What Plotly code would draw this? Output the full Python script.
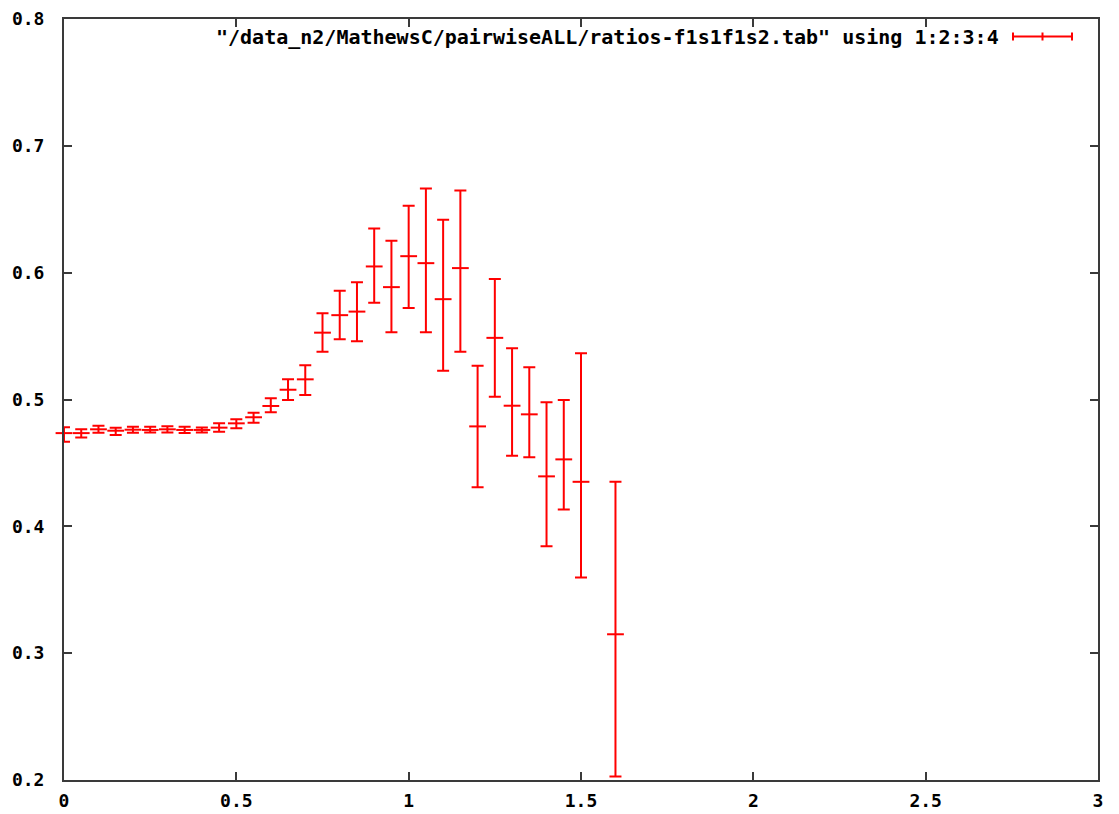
import plotly.graph_objects as go

x = [0.0, 0.05, 0.1, 0.15, 0.2, 0.25, 0.3, 0.35, 0.4, 0.45, 0.5, 0.55, 0.6, 0.65, 0.7,
     0.75, 0.8, 0.85, 0.9, 0.95, 1.0, 1.05, 1.1, 1.15, 1.2, 1.25, 1.3, 1.35, 1.4, 1.45, 1.5, 1.6]
y = [0.4735, 0.4735, 0.4765, 0.4754, 0.4762, 0.4760, 0.4765, 0.4760, 0.4760, 0.4778, 0.4812, 0.4860,
     0.4949, 0.5077, 0.5159, 0.5527, 0.5665, 0.5693, 0.6049, 0.5886, 0.6130, 0.6075, 0.5791, 0.6036,
     0.4788, 0.5486, 0.4951, 0.4883, 0.4394, 0.4528, 0.4351, 0.3149]
ylow = [0.4667, 0.4700, 0.4738, 0.4720, 0.4738, 0.4740, 0.4740, 0.4735, 0.4740, 0.4746, 0.4773, 0.4817,
        0.4899, 0.4996, 0.5036, 0.5377, 0.5475, 0.5460, 0.5762, 0.5530, 0.5722, 0.5530, 0.5227, 0.5377,
        0.4309, 0.5022, 0.4556, 0.4544, 0.3843, 0.4133, 0.3596, 0.2028]
yhigh = [0.4781, 0.4766, 0.4793, 0.4778, 0.4786, 0.4786, 0.4790, 0.4786, 0.4780, 0.4812, 0.4844, 0.4896,
         0.5010, 0.5159, 0.5270, 0.5680, 0.5857, 0.5925, 0.6349, 0.6251, 0.6528, 0.6664, 0.6417, 0.6648,
         0.5267, 0.5951, 0.5404, 0.5254, 0.4978, 0.4996, 0.5365, 0.4351]

xticks = [0, 0.5, 1, 1.5, 2, 2.5, 3]
xticklabels = ["0", "0.5", "1", "1.5", "2", "2.5", "3"]
yticks = [0.2, 0.3, 0.4, 0.5, 0.6, 0.7, 0.8]
yticklabels = ["0.2", "0.3", "0.4", "0.5", "0.6", "0.7", "0.8"]
legend_label = '"/data_n2/MathewsC/pairwiseALL/ratios-f1s1f1s2.tab" using 1:2:3:4'

RED = "#ff0000"
AX = "#3a3a3a"
FONT = dict(family="DejaVu Sans Mono", size=18, color="black", weight="bold")
LFONT = dict(family="DejaVu Sans Mono", size=20, color="black", weight="bold")

fig = go.Figure()
fig.add_trace(go.Scatter(
    x=x, y=y, mode="markers", cliponaxis=False,
    marker=dict(symbol="line-ew", size=12, line=dict(color=RED, width=2), color=RED),
    error_y=dict(type="data", symmetric=False,
                 array=[h - v for h, v in zip(yhigh, y)],
                 arrayminus=[v - l for v, l in zip(y, ylow)],
                 color=RED, thickness=2, width=6),
    showlegend=False, hoverinfo="skip",
))

axis_common = dict(showline=True, linecolor=AX, linewidth=2, mirror="ticks",
                   ticks="inside", ticklen=8, tickwidth=2, tickcolor=AX,
                   showgrid=False, zeroline=False, tickfont=FONT, automargin=False)

fig.update_layout(
    width=1119, height=814,
    margin=dict(l=64, r=21, t=19, b=34),
    paper_bgcolor="white", plot_bgcolor="white",
    xaxis=dict(range=[0, 3], tickvals=xticks, ticktext=xticklabels,
               ticklabelstandoff=3, **axis_common),
    yaxis=dict(range=[0.2, 0.8], tickvals=yticks, ticktext=yticklabels,
               ticklabelstandoff=14, **axis_common),
)

# legend (manual, gnuplot style)
def px(v):
    return (v - 64) / 1034

def py(v):
    return (780 - v) / 761

fig.add_annotation(x=px(1001), y=py(36.5), xref="paper", yref="paper",
                   text=legend_label, showarrow=False, xanchor="right", yanchor="middle",
                   font=LFONT)
for seg in [((1013, 36.5), (1072, 36.5)), ((1013, 32.5), (1013, 40.5)),
            ((1072, 32.5), (1072, 40.5)), ((1042.5, 32.5), (1042.5, 40.5))]:
    (x0, y0), (x1, y1) = seg
    fig.add_shape(type="line", xref="paper", yref="paper",
                  x0=px(x0), y0=py(y0), x1=px(x1), y1=py(y1),
                  line=dict(color=RED, width=2))

fig.write_html("out.html")
